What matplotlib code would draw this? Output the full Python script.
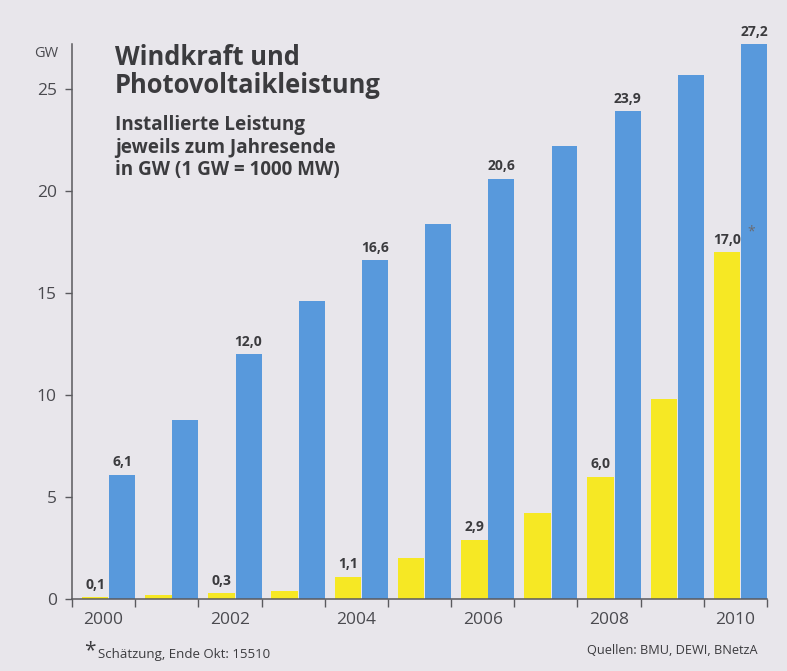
import numpy as np
import matplotlib.pyplot as plt

plt.rcParams['font.family'] = ['Open Sans', 'DejaVu Sans']

# Installierte Leistung in GW, jeweils zum Jahresende
years = [2000, 2001, 2002, 2003, 2004, 2005, 2006, 2007, 2008, 2009, 2010]
wind = [6.1, 8.75, 12.0, 14.6, 16.6, 18.4, 20.6, 22.2, 23.9, 25.7, 27.2]
solar = [0.1, 0.18, 0.3, 0.4, 1.1, 2.0, 2.9, 4.2, 6.0, 9.8, 17.0]
label_years = [2000, 2002, 2004, 2006, 2008, 2010]

bg = '#e8e6eb'
txt = '#3b3b3e'
ticktxt = '#4a4a4f'
axc = '#5a5a5e'
blue = '#5899dc'
yellow = '#f6e824'

W, H = 787, 671
fig = plt.figure(figsize=(W / 100, H / 100), dpi=100, facecolor=bg)
ax = fig.add_axes([72 / W, 1 - 599 / H, (767 - 72) / W, (599 - 44) / H])
ax.set_facecolor(bg)

x = np.arange(len(years))
ax.bar(x + 0.367, solar, width=0.42, color=yellow, zorder=2)
ax.bar(x + 0.795, wind, width=0.41, color=blue, zorder=2)

def fmt(v):
    return f'{v:.1f}'.replace('.', ',')

for i, yr in enumerate(years):
    if yr in label_years:
        ax.annotate(fmt(solar[i]), (x[i] + 0.367, solar[i]), xytext=(0, 6),
                    textcoords='offset points', ha='center', va='baseline',
                    fontsize=10, fontweight='bold', color=txt)
        ax.annotate(fmt(wind[i]), (x[i] + 0.795, wind[i]), xytext=(0, 6),
                    textcoords='offset points', ha='center', va='baseline',
                    fontsize=10, fontweight='bold', color=txt)
# estimate marker on the 2010 solar value
ax.annotate('*', (x[-1] + 0.367, solar[-1]), xytext=(15, 12),
            textcoords='offset points', ha='left', va='baseline',
            fontsize=10, color='#6a6a70')

ax.set_xlim(0, len(years))
ax.set_ylim(0, 27.2)

ax.set_xticks(np.arange(len(years) + 1))
ax.set_xticklabels([])
ax.set_xticks([years.index(y) + 0.5 for y in label_years], minor=True)
ax.set_xticklabels([str(y) for y in label_years], minor=True)
ax.tick_params(axis='x', which='major', direction='out', length=6, width=1, color=axc)
ax.tick_params(axis='x', which='minor', length=0, pad=9, labelsize=12.5, labelcolor=ticktxt)

ax.set_yticks([0, 5, 10, 15, 20, 25])
ax.tick_params(axis='y', direction='out', length=5, width=1, color=axc, pad=6,
               labelsize=12.5, labelcolor=ticktxt)

for s in ['top', 'right']:
    ax.spines[s].set_visible(False)
for s in ['left', 'bottom']:
    ax.spines[s].set_color(axc)
    ax.spines[s].set_linewidth(1.1)

def ftext(px, py, s, color=txt, **kw):
    fig.text(px / W, 1 - py / H, s, color=color, **kw)

ftext(46, 57, 'GW', fontsize=10.5, ha='center', va='baseline', color=ticktxt)

ftext(115, 65, 'Windkraft und', fontsize=18.4, fontweight='bold', va='baseline')
ftext(115, 93, 'Photovoltaikleistung', fontsize=18.4, fontweight='bold', va='baseline')
ftext(115, 130, 'Installierte Leistung', fontsize=13.6, fontweight='bold', va='baseline')
ftext(115, 153, 'jeweils zum Jahresende', fontsize=13.6, fontweight='bold', va='baseline')
ftext(115, 175, 'in GW (1 GW = 1000 MW)', fontsize=13.6, fontweight='bold', va='baseline')

ftext(84, 656, '*', fontsize=15, va='baseline')
ftext(98, 658, 'Schätzung, Ende Okt: 15510', fontsize=9.5, va='baseline')
ftext(758, 654, 'Quellen: BMU, DEWI, BNetzA', fontsize=9.2, ha='right', va='baseline')

fig.savefig('out.png', dpi=100, facecolor=bg)
